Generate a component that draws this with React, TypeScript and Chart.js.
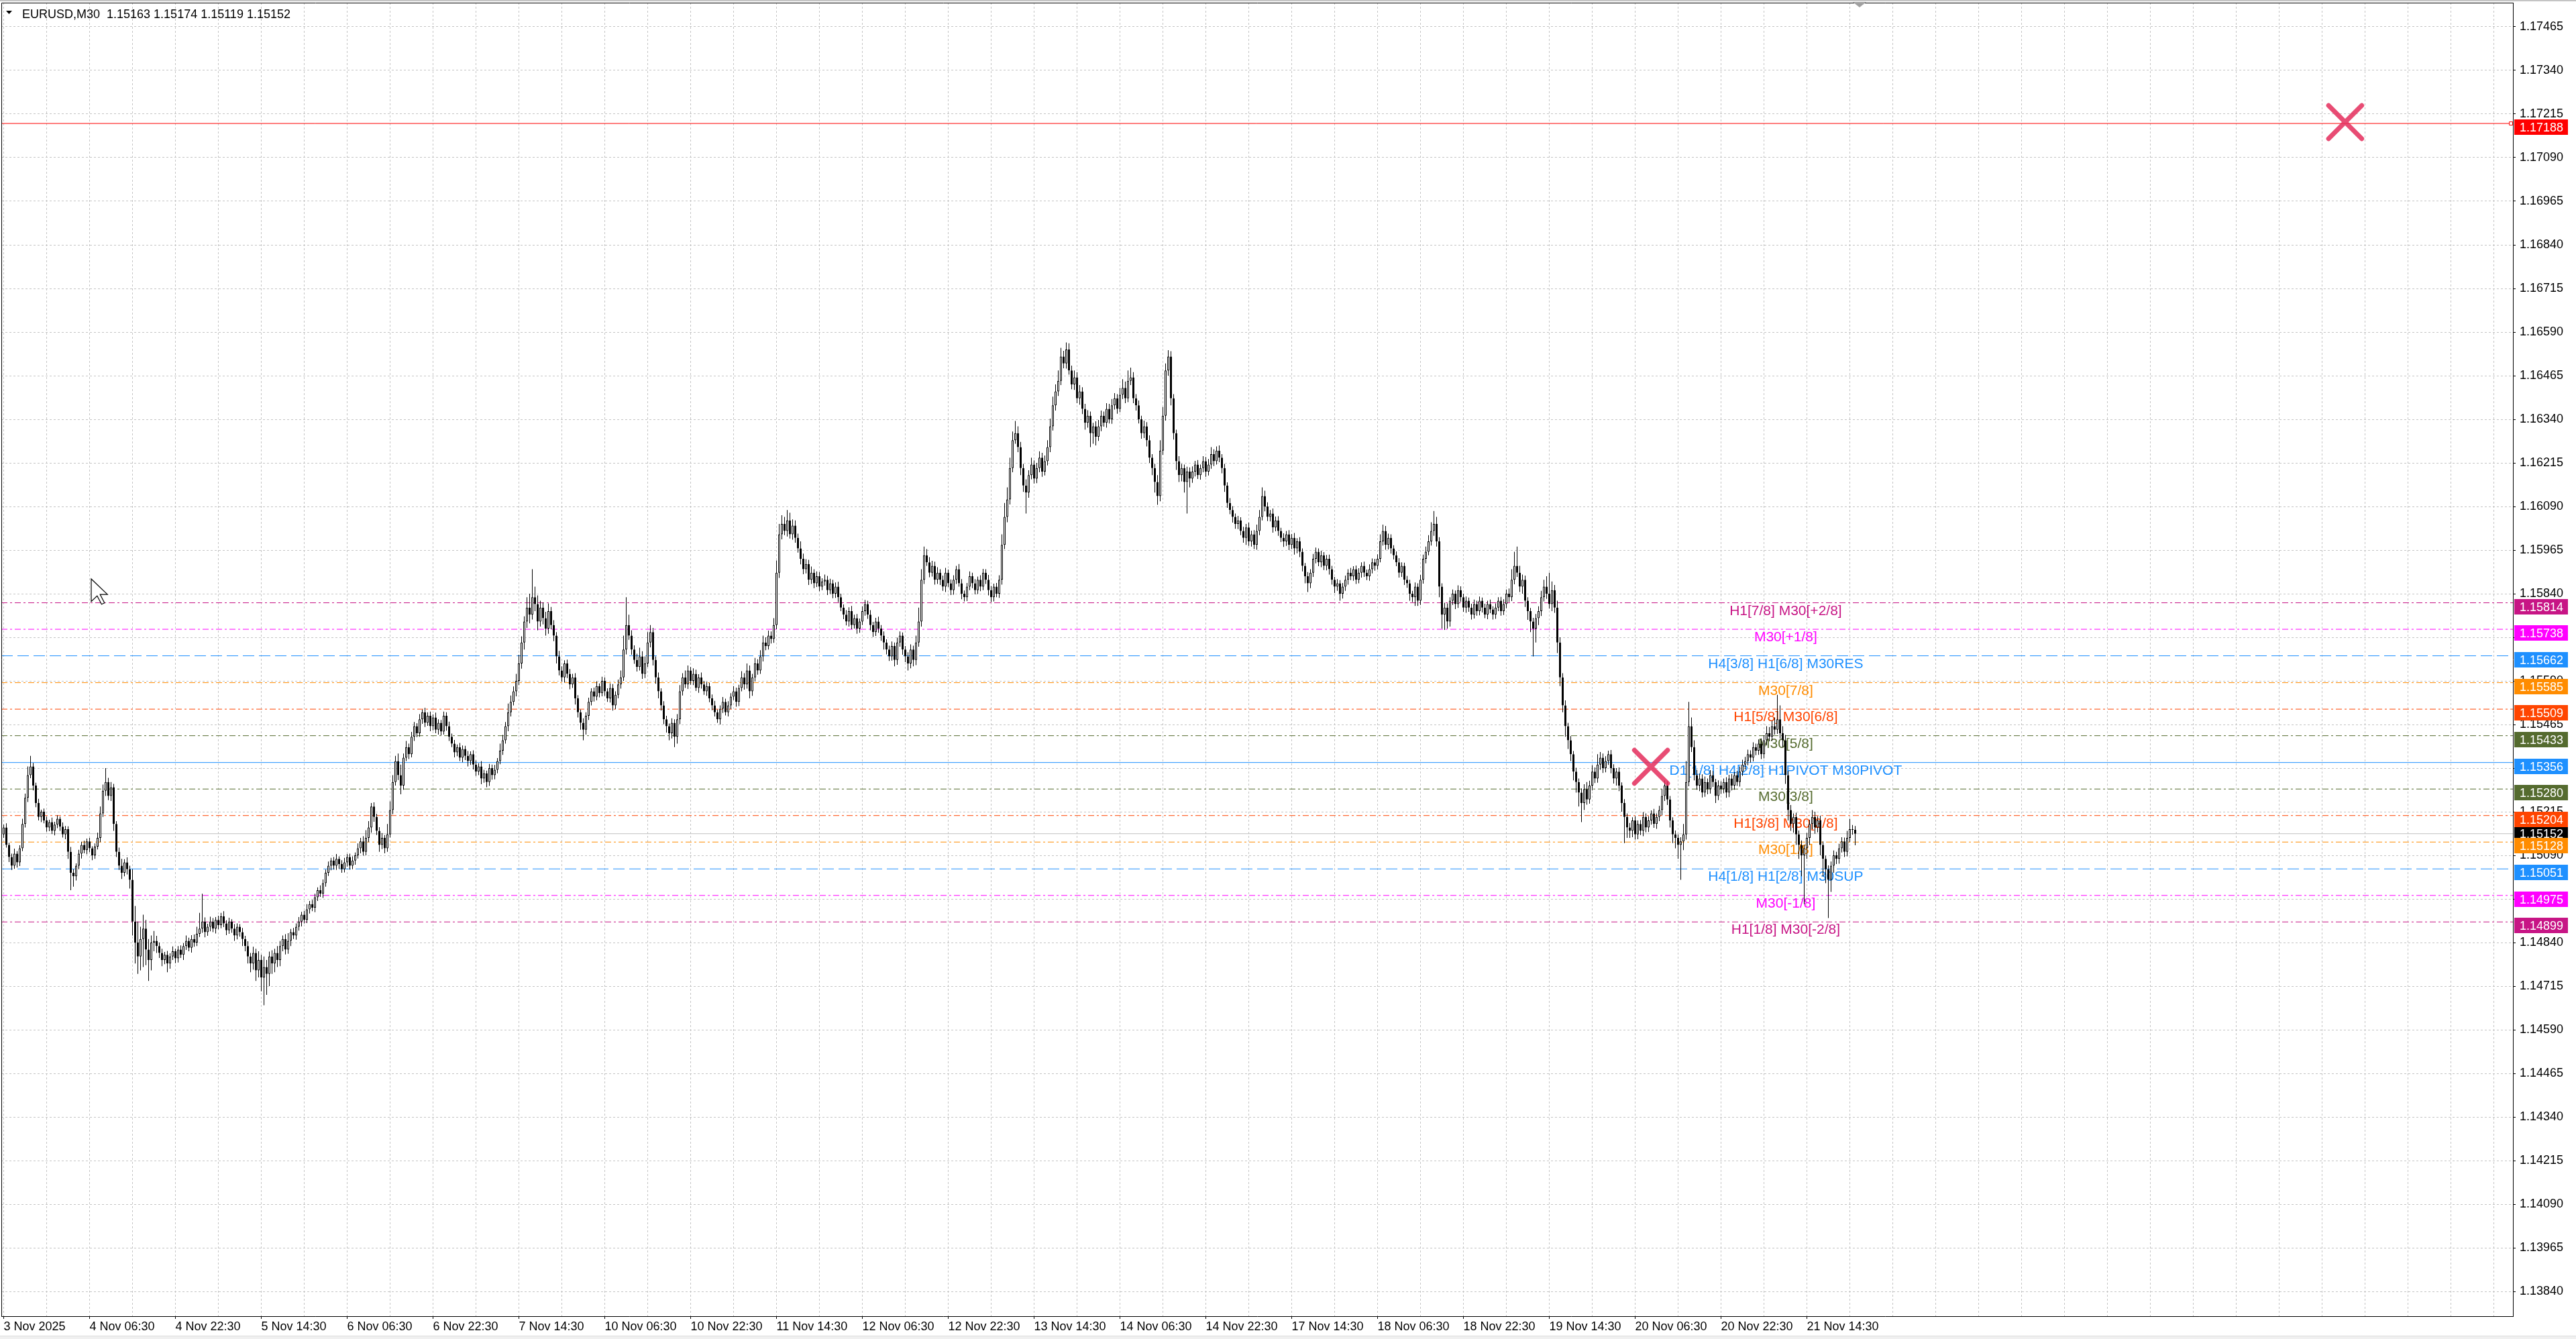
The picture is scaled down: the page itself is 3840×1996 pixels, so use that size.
import React, { useEffect, useRef } from 'react';
import { Chart, registerables } from 'chart.js';

Chart.register(...registerables);

// ---------- DATA ----------
// prices stored as 1e-5 units above 1.1 (5152 => 1.15152); open of each bar = previous close
const PRICE_BASE = 1.1;
const firstOpen = 5150;

const closes: number[] = [
  // 0-6
  5170, 5120, 5085, 5060, 5095, 5070, 5110,
  // 7-10
  5180, 5255, 5320, 5345,
  // 11-14
  5290, 5240, 5200, 5215,
  // 15-23
  5190, 5170, 5185, 5160, 5178, 5195, 5172, 5150, 5165,
  // 24-26
  5100, 5040, 5030,
  // 27-35
  5060, 5095, 5120, 5105, 5130, 5110, 5090, 5115, 5140,
  // 36-40
  5210, 5275, 5300, 5260, 5285,
  // 41-47
  5180, 5100, 5060, 5040, 5070, 5050, 5020,
  // 48-49
  4900, 4840,
  // 50-56
  4800, 4850, 4880, 4820, 4790, 4840, 4845,
  // 57-74
  4830, 4810, 4790, 4805, 4780, 4800, 4815, 4795, 4820, 4805, 4830, 4845, 4825, 4850, 4840, 4865, 4880, 4900,
  // 75-89
  4870, 4885, 4900, 4880, 4905, 4890, 4915, 4895, 4875, 4900, 4880, 4860, 4885, 4870, 4850,
  // 90-100
  4830, 4800, 4780, 4810, 4760, 4790, 4740, 4770, 4750, 4800, 4780,
  // 101-110
  4810, 4790, 4830, 4850, 4820, 4845, 4870, 4860, 4885, 4900,
  // 111-121
  4920, 4905, 4935, 4950, 4940, 4970, 4990, 4980, 5010, 5040, 5060,
  // 122-131
  5075, 5060, 5080, 5065, 5050, 5070, 5085, 5060, 5075, 5090,
  // 132-138
  5110, 5130, 5100, 5140, 5170, 5230, 5200,
  // 139-143
  5160, 5120, 5140, 5110, 5150,
  // 144-149
  5220, 5300, 5360, 5320, 5290, 5370,
  // 150-158
  5400, 5380, 5430, 5460, 5440, 5480, 5500, 5470, 5490,
  // 159-166
  5460, 5485, 5450, 5470, 5445, 5490, 5460, 5430,
  // 167-174
  5410, 5385, 5400, 5370, 5395, 5375, 5360, 5380,
  // 175-184
  5350, 5330, 5345, 5310, 5325, 5300, 5340, 5320, 5335, 5360,
  // 185-191
  5390, 5420, 5460, 5500, 5530, 5560, 5590,
  // 192-198
  5640, 5700, 5760, 5800, 5780, 5830, 5810,
  // 199-205
  5760, 5800, 5770, 5740, 5790, 5750, 5720,
  // 206-212
  5660, 5620, 5600, 5640, 5610, 5580, 5600,
  // 213-217
  5540, 5500, 5470, 5450, 5490,
  // 218-230
  5530, 5560, 5545, 5575, 5555, 5590, 5560, 5540, 5570, 5520, 5550, 5580, 5600,
  // 231-233
  5680, 5750, 5720,
  // 234-241
  5680, 5650, 5630, 5660, 5610, 5640, 5700, 5730,
  // 242-251
  5650, 5600, 5560, 5520, 5480, 5460, 5440, 5470, 5430, 5480,
  // 252-262
  5560, 5600, 5580, 5620, 5590, 5610, 5570, 5600, 5580, 5560, 5575,
  // 263-274
  5540, 5520, 5500, 5480, 5510, 5530, 5500, 5520, 5545, 5560, 5530, 5570,
  // 275-283
  5600, 5580, 5620, 5560, 5600, 5640, 5620, 5660, 5700,
  // 284-290
  5690, 5720, 5710, 5750, 5900, 6010, 6040,
  // 291-296
  6020, 6050, 6010, 6035, 6000, 5970,
  // 297-305
  5940, 5910, 5925, 5880, 5900, 5870, 5890, 5860, 5875,
  // 306-311
  5880, 5850, 5870, 5840, 5860, 5830,
  // 312-327
  5800, 5780, 5760, 5790, 5750, 5770, 5740, 5760, 5790, 5810, 5780, 5750, 5730, 5760, 5740, 5720,
  // 328-341
  5700, 5680, 5660, 5690, 5650, 5700, 5720, 5680, 5660, 5640, 5680, 5650, 5700, 5760,
  // 342-348
  5880, 5950, 5930, 5900, 5920, 5880, 5900,
  // 349-371
  5880, 5860, 5900, 5870, 5850, 5880, 5910, 5870, 5840, 5830, 5860, 5890, 5870, 5850, 5880, 5860, 5900, 5880, 5850, 5830, 5860, 5840, 5880,
  // 372-374
  5980, 6060, 6110,
  // 375-378
  6200, 6280, 6300, 6260,
  // 379-382
  6200, 6150, 6130, 6180,
  // 383-389
  6210, 6170, 6200, 6230, 6190, 6220, 6260,
  // 390-393
  6320, 6380, 6420, 6450,
  // 394-396
  6520, 6500, 6540,
  // 397-402
  6480, 6440, 6460, 6400, 6420, 6370,
  // 403-407
  6330, 6350, 6300, 6320, 6290,
  // 408-416
  6320, 6350, 6330, 6370, 6340, 6380, 6400, 6370, 6410,
  // 417-420
  6430, 6400, 6450, 6460,
  // 421-426
  6400, 6380, 6340, 6300, 6320, 6280,
  // 427-430
  6230, 6200, 6160, 6120,
  // 431-434
  6250, 6350, 6480, 6520,
  // 435-437
  6400, 6300, 6220,
  // 438-442
  6180, 6200, 6160, 6190, 6170,
  // 443-454
  6190, 6210, 6180, 6200, 6220, 6190, 6210, 6240, 6220, 6250, 6230, 6200,
  // 455-460
  6150, 6100, 6080, 6060, 6040, 6050,
  // 461-469
  6020, 6000, 6030, 5990, 6010, 5980, 6020, 6060, 6120,
  // 470-474
  6090, 6060, 6070, 6030, 6050,
  // 475-483
  6020, 6000, 5990, 6010, 5980, 6000, 5970, 5990, 5960,
  // 484-487
  5920, 5890, 5870, 5900,
  // 488-494
  5940, 5960, 5930, 5950, 5920, 5940, 5910,
  // 495-500
  5880, 5860, 5870, 5840, 5860, 5880,
  // 501-512
  5900, 5890, 5910, 5880, 5900, 5920, 5900, 5890, 5910, 5930, 5920, 5940,
  // 513-518
  5990, 6020, 5980, 6000, 5970, 5950,
  // 519-523
  5930, 5900, 5920, 5880, 5870,
  // 524-527
  5840, 5830, 5860, 5820,
  // 528-534
  5880, 5940, 5960, 5990, 6020, 6040, 5990,
  // 535-538
  5860, 5780, 5800, 5760,
  // 539-545
  5820, 5840, 5810, 5850, 5830, 5800, 5820,
  // 546-561
  5800, 5780, 5810, 5790, 5820, 5800, 5780, 5810, 5795, 5780, 5800, 5820, 5790, 5810, 5840, 5830,
  // 562-566
  5880, 5920, 5900, 5860, 5880,
  // 567-572
  5820, 5790, 5760, 5740, 5770, 5790,
  // 573-578
  5830, 5860, 5840, 5810, 5850, 5800,
  // 579-585
  5700, 5600, 5520, 5460, 5420, 5380, 5330,
  // 586-590
  5300, 5270, 5240, 5280, 5250,
  // 591-597
  5290, 5330, 5310, 5350, 5370, 5340, 5360,
  // 598-602
  5380, 5340, 5310, 5330, 5290,
  // 603-608
  5240, 5200, 5170, 5160, 5190, 5150,
  // 609-617
  5180, 5160, 5200, 5170, 5190, 5210, 5180, 5200, 5220,
  // 618-620
  5260, 5290, 5250,
  // 621-626
  5190, 5150, 5140, 5120, 5130, 5150,
  // 627-629
  5300, 5460, 5400,
  // 630-639
  5320, 5290, 5310, 5270, 5300, 5280, 5320, 5300, 5260, 5290,
  // 640-648
  5280, 5300, 5270, 5310, 5290, 5320, 5300, 5330, 5350,
  // 649-655
  5360, 5380, 5370, 5400, 5390, 5410, 5380,
  // 656-663
  5420, 5440, 5430, 5460, 5450, 5480, 5440, 5420,
  // 664-668
  5320, 5220, 5180, 5200, 5150,
  // 669-672
  5120, 5090, 5110, 5140,
  // 673-677
  5180, 5200, 5170, 5190, 5120,
  // 678-681
  5080, 5050, 5020, 5060,
  // 682-688
  5090, 5080, 5110, 5130, 5100, 5140, 5165,
  // 689-690
  5163, 5152,
];

const wickUp: number[] = [
  8, 12, 6, 10, 14, 7, 9, 15, 12, 25,
  30, 10, 8, 12, 6, 9, 11, 7, 13, 8,
  10, 6, 12, 9, 8, 14, 10, 7, 11, 9,
  12, 8, 10, 6, 9, 15, 20, 18, 40, 12,
  15, 10, 8, 12, 20, 9, 14, 10, 30, 45,
  60, 35, 40, 25, 30, 20, 28, 14, 10, 12,
  8, 11, 9, 14, 7, 10, 12, 8, 15, 9,
  11, 13, 20, 45, 80, 12, 9, 14, 10, 8,
  12, 10, 15, 9, 11, 7, 13, 10, 8, 12,
  9, 14, 10, 18, 12, 25, 15, 30, 20, 14,
  18, 12, 20, 15, 10, 14, 22, 9, 12, 10,
  13, 8, 11, 15, 9, 12, 10, 8, 14, 11,
  9, 12, 8, 10, 14, 7, 11, 13, 9, 10,
  12, 8, 14, 10, 15, 22, 18, 10, 12, 9,
  11, 14, 8, 30, 25, 20, 15, 22, 30, 12,
  18, 10, 14, 12, 9, 15, 8, 13, 10, 12,
  9, 14, 10, 8, 12, 10, 13, 9, 11, 8,
  12, 10, 9, 14, 8, 11, 12, 9, 15, 10,
  8, 12, 10, 14, 9, 20, 15, 12, 25, 18,
  14, 20, 25, 18, 15, 30, 40, 80, 30, 25,
  20, 15, 18, 22, 12, 14, 10, 16, 12, 9,
  11, 14, 10, 12, 9, 8, 13, 10, 12, 9,
  11, 14, 8, 12, 10, 9, 13, 11, 10, 14,
  20, 40, 80, 30, 15, 12, 18, 25, 15, 20,
  30, 20, 12, 10, 14, 9, 12, 10, 8, 13,
  10, 15, 18, 12, 20, 14, 10, 16, 12, 9,
  14, 10, 12, 9, 11, 13, 8, 10, 14, 9,
  12, 10, 15, 11, 9, 18, 12, 20, 14, 10,
  16, 12, 18, 20, 15, 14, 12, 20, 35, 30,
  25, 20, 30, 22, 18, 15, 12, 20, 15, 14,
  12, 18, 10, 14, 12, 9, 15, 11, 13, 10,
  12, 14, 10, 9, 13, 11, 15, 10, 12, 9,
  14, 12, 10, 13, 9, 11, 14, 10, 12, 9,
  11, 13, 10, 14, 12, 9, 10, 12, 15, 11,
  20, 40, 30, 25, 18, 15, 14, 12, 16, 10,
  12, 14, 9, 11, 13, 10, 15, 12, 9, 11,
  14, 10, 12, 9, 13, 11, 10, 14, 12, 9,
  11, 13, 30, 40, 35, 30, 25, 35, 20, 15,
  12, 18, 14, 20, 12, 15, 18, 14, 16, 20,
  22, 25, 20, 30, 25, 16, 20, 18, 14, 20,
  15, 18, 12, 14, 16, 12, 10, 14, 18, 15,
  12, 16, 14, 18, 15, 12, 20, 25, 18, 30,
  28, 15, 12, 14, 10, 16, 12, 14, 10, 12,
  20, 30, 25, 20, 18, 15, 12, 10, 14, 12,
  10, 14, 12, 15, 11, 13, 10, 14, 12, 16,
  20, 14, 12, 15, 10, 12, 9, 14, 11, 10,
  13, 9, 12, 10, 14, 11, 12, 18, 20, 25,
  15, 12, 10, 14, 11, 12, 9, 13, 10, 12,
  11, 14, 9, 12, 10, 8, 12, 10, 14, 12,
  10, 13, 9, 11, 12, 10, 8, 12, 9, 11,
  12, 10, 14, 9, 11, 13, 10, 12, 9, 14,
  11, 10, 13, 20, 18, 14, 12, 10, 9, 11,
  12, 10, 9, 11, 10, 8, 12, 10, 14, 12,
  15, 18, 25, 37, 20, 12, 10, 14, 12, 10,
  12, 9, 14, 11, 10, 12, 9, 11, 13, 10,
  12, 9, 11, 10, 13, 9, 12, 10, 11, 14,
  12, 15, 30, 40, 55, 20, 15, 12, 10, 9,
  11, 12, 14, 18, 20, 30, 60, 25, 15, 20,
  15, 12, 14, 10, 12, 9, 11, 10, 12, 14,
  20, 14, 18, 12, 30, 16, 12, 14, 10, 12,
  11, 10, 12, 9, 11, 10, 13, 9, 12, 10,
  11, 14, 10, 12, 9, 13, 10, 12, 20, 15,
  12, 10, 9, 11, 10, 12, 30, 60, 70, 25,
  20, 15, 14, 12, 16, 10, 14, 12, 9, 15,
  12, 10, 14, 11, 13, 9, 12, 15, 14, 12,
  13, 11, 14, 10, 12, 15, 14, 20, 18, 16,
  25, 70, 40, 20, 15, 12, 14, 10, 12, 11,
  13, 10, 14, 12, 20, 15, 12, 14, 10, 9,
  11, 12, 14, 10, 13, 12, 11, 20, 30, 12,
  11,
];

const wickDn: number[] = [
  10, 8, 14, 12, 9, 15, 11, 8, 10, 12,
  9, 14, 12, 10, 15, 8, 12, 11, 9, 13,
  10, 12, 9, 14, 20, 50, 30, 12, 10, 14,
  9, 12, 11, 14, 10, 8, 12, 10, 15, 12,
  14, 20, 15, 12, 18, 10, 15, 25, 40, 60,
  50, 40, 80, 45, 60, 30, 25, 20, 14, 18,
  12, 25, 15, 10, 14, 12, 9, 15, 11, 10,
  14, 12, 10, 9, 12, 15, 11, 13, 10, 14,
  12, 9, 11, 14, 10, 12, 15, 11, 13, 20,
  15, 20, 25, 18, 30, 20, 40, 80, 60, 35,
  30, 25, 20, 18, 15, 14, 12, 15, 10, 12,
  11, 14, 10, 9, 12, 10, 13, 11, 9, 12,
  10, 9, 13, 11, 12, 14, 10, 9, 12, 11,
  10, 12, 9, 14, 11, 10, 12, 15, 14, 12,
  20, 12, 14, 10, 9, 12, 10, 14, 25, 12,
  10, 14, 9, 12, 11, 10, 13, 12, 9, 14,
  12, 10, 14, 11, 9, 13, 12, 10, 14, 11,
  10, 13, 12, 15, 11, 14, 12, 10, 16, 12,
  15, 11, 13, 12, 10, 9, 12, 10, 14, 12,
  10, 14, 12, 15, 20, 18, 25, 14, 20, 25,
  14, 18, 20, 15, 12, 16, 20, 14, 12, 15,
  12, 14, 10, 18, 15, 20, 30, 14, 12, 10,
  14, 11, 12, 9, 13, 10, 12, 15, 11, 10,
  12, 10, 14, 12, 15, 11, 13, 10, 14, 12,
  10, 14, 16, 18, 20, 15, 14, 18, 20, 15,
  30, 20, 14, 12, 10, 13, 11, 12, 9, 14,
  12, 10, 13, 11, 14, 12, 10, 15, 12, 9,
  12, 11, 10, 14, 12, 10, 15, 12, 20, 13,
  11, 12, 10, 14, 12, 10, 13, 11, 12, 15,
  14, 12, 16, 12, 15, 14, 12, 16, 14, 12,
  15, 12, 14, 11, 13, 10, 12, 14, 11, 13,
  12, 14, 10, 13, 11, 14, 12, 10, 15, 12,
  10, 13, 12, 15, 14, 11, 12, 15, 20, 14,
  13, 12, 18, 14, 12, 15, 16, 20, 14, 18,
  15, 12, 14, 12, 10, 13, 11, 14, 12, 15,
  12, 15, 11, 14, 13, 12, 10, 16, 12, 11,
  10, 14, 12, 11, 13, 10, 12, 15, 14, 12,
  10, 12, 14, 12, 15, 14, 12, 10, 14, 20,
  18, 60, 15, 12, 14, 13, 12, 15, 11, 12,
  14, 12, 15, 13, 12, 14, 15, 12, 14, 16,
  14, 18, 15, 20, 14, 40, 30, 25, 12, 14,
  11, 14, 12, 13, 12, 14, 10, 12, 14, 11,
  12, 14, 15, 12, 16, 14, 18, 15, 20, 30,
  25, 15, 12, 14, 15, 20, 18, 25, 20, 18,
  30, 90, 25, 12, 14, 11, 13, 12, 15, 11,
  12, 14, 10, 13, 15, 18, 14, 12, 16, 14,
  15, 12, 14, 20, 13, 15, 12, 14, 12, 10,
  14, 12, 13, 15, 11, 14, 12, 16, 13, 15,
  12, 18, 14, 15, 16, 20, 25, 14, 12, 13,
  11, 14, 12, 13, 15, 14, 18, 12, 20, 14,
  12, 14, 11, 13, 12, 10, 14, 12, 11, 13,
  12, 14, 11, 10, 12, 14, 13, 15, 12, 11,
  14, 12, 15, 13, 20, 14, 25, 15, 12, 11,
  13, 10, 12, 14, 15, 30, 40, 44, 20, 14,
  12, 14, 11, 13, 12, 15, 12, 14, 11, 13,
  12, 14, 10, 13, 11, 14, 12, 10, 13, 11,
  12, 14, 11, 13, 12, 15, 20, 18, 25, 30,
  80, 40, 20, 14, 12, 15, 13, 20, 15, 30,
  25, 20, 30, 25, 20, 25, 30, 40, 55, 20,
  15, 12, 14, 13, 12, 15, 14, 12, 11, 15,
  14, 20, 16, 25, 75, 30, 20, 18, 15, 14,
  12, 15, 14, 13, 12, 11, 14, 12, 15, 14,
  16, 20, 25, 30, 40, 100, 25, 15, 12, 14,
  15, 12, 16, 14, 12, 15, 13, 14, 20, 12,
  14, 12, 15, 13, 14, 12, 11, 13, 12, 14,
  12, 14, 11, 13, 12, 14, 12, 15, 13, 12,
  14, 12, 15, 20, 25, 30, 20, 25, 30, 40,
  60, 140, 30, 20, 15, 18, 14, 30, 50, 40,
  110, 35, 20, 15, 14, 12, 15, 13, 12, 14,
  33,
];

const timeLabels: string[] = [
  '3 Nov 2025', '4 Nov 06:30', '4 Nov 22:30', '5 Nov 14:30', '6 Nov 06:30', '6 Nov 22:30',
  '7 Nov 14:30', '10 Nov 06:30', '10 Nov 22:30', '11 Nov 14:30', '12 Nov 06:30', '12 Nov 22:30',
  '13 Nov 14:30', '14 Nov 06:30', '14 Nov 22:30', '17 Nov 14:30', '18 Nov 06:30', '18 Nov 22:30',
  '19 Nov 14:30', '20 Nov 06:30', '20 Nov 22:30', '21 Nov 14:30',
];
const BARS_PER_LABEL = 32;
const BARS_PER_GRID = 16;
const GRID_LAST_BAR = 928;

const priceTicks: number[] = [
  1.17465, 1.17340, 1.17215, 1.17090, 1.16965, 1.16840, 1.16715, 1.16590, 1.16465, 1.16340,
  1.16215, 1.16090, 1.15965, 1.15840, 1.15715, 1.15590, 1.15465, 1.15340, 1.15215, 1.15090,
  1.14965, 1.14840, 1.14715, 1.14590, 1.14465, 1.14340, 1.14215, 1.14090, 1.13965, 1.13840,
];

const levelValues: number[] = [
  1.15814, 1.15738, 1.15662, 1.15585, 1.15509, 1.15433, 1.15356,
  1.15280, 1.15204, 1.15128, 1.15051, 1.14975, 1.14899,
];
const levelNames: string[] = [
  'H1[7/8] M30[+2/8]', 'M30[+1/8]', 'H4[3/8] H1[6/8] M30RES', 'M30[7/8]', 'H1[5/8] M30[6/8]',
  'M30[5/8]', 'D1[1/8] H4[2/8] H1PIVOT M30PIVOT', 'M30[3/8]', 'H1[3/8] M30[2/8]', 'M30[1/8]',
  'H4[1/8] H1[2/8] M30SUP', 'M30[-1/8]', 'H1[1/8] M30[-2/8]',
];
const levelColors: string[] = [
  '#C71585', '#FF00FF', '#1E90FF', '#FF8C00', '#FF4500', '#556B2F', '#1E90FF',
  '#556B2F', '#FF4500', '#FF8C00', '#1E90FF', '#FF00FF', '#C71585',
];
const levelStyles: string[] = [
  'dashdot', 'dashdot', 'dash', 'dashdot', 'dashdot', 'dashdot', 'solid',
  'dashdot', 'dashdot', 'dashdot', 'dash', 'dashdot', 'dashdot',
];

const stopPrice = 1.17188;
const bidPrice = 1.15152;
const crossBars: number[] = [872.6, 613.9];
const crossPrices: number[] = [1.17192, 1.15344];
const headerSymbol = 'EURUSD,M30';
const headerOHLC: string[] = ['1.15163', '1.15174', '1.15119', '1.15152'];

// ---------- LAYOUT CONSTANTS ----------
const W = 3840;
const H = 1996;
const X_MIN = -0.875;
const X_MAX = 935.125;
const Y_MAX = 1.1753423;
const Y_MIN = 1.1376885;
const LEVEL_LABEL_BAR = 664.1;
const FONT = '"Liberation Sans", Arial, sans-serif';

const dashPatterns: Record<string, number[]> = {
  solid: [],
  dash: [17, 7],
  dashdot: [9, 4, 3, 4],
};

const toPrice = (v: number) => PRICE_BASE + v / 100000;

export default function App() {
  const canvasRef = useRef<HTMLCanvasElement | null>(null);

  useEffect(() => {
    document.body.style.margin = '0';
    const canvas = canvasRef.current;
    if (!canvas) return;

    const opens = closes.map((c, i) => (i === 0 ? firstOpen : closes[i - 1]));
    const bodyData = closes.map((c, i) => ({ x: i, y: [toPrice(opens[i]), toPrice(c)] }));
    const wickData = closes.map((c, i) => ({
      x: i,
      y: [
        toPrice(Math.min(opens[i], c) - (wickDn[i] ?? 0)),
        toPrice(Math.max(opens[i], c) + (wickUp[i] ?? 0)),
      ],
    }));
    const bodyColors = closes.map((c, i) => (c >= opens[i] ? '#ffffff' : '#000000'));

    const levelDatasets = levelValues.map((v, i) => ({
      type: 'line',
      data: [{ x: X_MIN, y: v }, { x: X_MAX, y: v }],
      borderColor: levelColors[i],
      borderWidth: 1,
      borderDash: dashPatterns[levelStyles[i]],
      pointRadius: 0,
      fill: false,
      tension: 0,
    }));

    const decor = {
      id: 'mtDecor',
      beforeDraw(chart: any) {
        const ctx = chart.ctx;
        ctx.save();
        ctx.fillStyle = '#ffffff';
        ctx.fillRect(0, 0, chart.width, chart.height);
        ctx.fillStyle = '#c4c4c4';
        ctx.fillRect(0, 0, chart.width, 2);
        ctx.fillStyle = '#dcdcdc';
        ctx.fillRect(0, 1991, chart.width, 1);
        ctx.fillStyle = '#f0f0f0';
        ctx.fillRect(0, 1992, chart.width, 4);
        ctx.restore();
      },
      beforeDatasetsDraw(chart: any) {
        const { ctx, scales } = chart;
        const cx = scales.x.getPixelForValue(LEVEL_LABEL_BAR);
        ctx.save();
        ctx.font = `21px ${FONT}`;
        ctx.textAlign = 'center';
        ctx.textBaseline = 'alphabetic';
        levelValues.forEach((v, i) => {
          ctx.fillStyle = levelColors[i];
          ctx.fillText(levelNames[i], cx, Math.round(scales.y.getPixelForValue(v)) + 18);
        });
        ctx.restore();
      },
      beforeDatasetDraw(chart: any, args: any) {
        if (args.index === 0) {
          chart.ctx.save();
          chart.ctx.lineCap = 'round';
        }
      },
      afterDatasetDraw(chart: any, args: any) {
        if (args.index === 0) chart.ctx.restore();
      },
      afterDraw(chart: any) {
        const { ctx, chartArea: ca, scales } = chart;
        ctx.save();
        // frame top/left
        ctx.strokeStyle = '#000000';
        ctx.lineWidth = 1;
        ctx.beginPath();
        ctx.moveTo(ca.left + 0.5, ca.bottom);
        ctx.lineTo(ca.left + 0.5, ca.top + 0.5);
        ctx.lineTo(ca.right, ca.top + 0.5);
        ctx.stroke();

        // price boxes on the right
        const boxX = ca.right + 2;
        const boxW = 80;
        ctx.font = `18px ${FONT}`;
        ctx.textAlign = 'left';
        ctx.textBaseline = 'alphabetic';
        const by = Math.round(scales.y.getPixelForValue(bidPrice));
        ctx.fillStyle = '#000000';
        ctx.fillRect(boxX, by - 11, boxW, 23);
        ctx.fillStyle = '#ffffff';
        ctx.fillText(bidPrice.toFixed(5), boxX + 8, by + 6);
        const boxes = [{ v: stopPrice, c: '#FF0000' }].concat(
          levelValues.map((v, i) => ({ v, c: levelColors[i] }))
        );
        boxes.forEach((b) => {
          const yy = Math.round(scales.y.getPixelForValue(b.v));
          ctx.fillStyle = b.c;
          ctx.fillRect(boxX, yy - 6, boxW, 23);
          ctx.fillStyle = '#ffffff';
          ctx.fillText(b.v.toFixed(5), boxX + 8, yy + 12);
        });

        // header
        ctx.fillStyle = '#000000';
        ctx.beginPath();
        ctx.moveTo(9, 16);
        ctx.lineTo(18, 16);
        ctx.lineTo(13.5, 21);
        ctx.closePath();
        ctx.fill();
        ctx.font = `18px ${FONT}`;
        ctx.fillText(headerSymbol + '  ' + headerOHLC.join(' '), 33, 27);

        // chart shift marker
        ctx.fillStyle = '#a0a0a0';
        ctx.beginPath();
        ctx.moveTo(2762, 3);
        ctx.lineTo(2782, 3);
        ctx.lineTo(2772, 11);
        ctx.closePath();
        ctx.fill();

        // mouse cursor
        const cur = [[0, 0], [0, 16], [4, 12], [7, 18], [9, 17], [6, 11], [11, 11]];
        ctx.beginPath();
        cur.forEach((p, i) => {
          const px = 136 + p[0] * 2.2;
          const py = 863 + p[1] * 2.1;
          if (i === 0) ctx.moveTo(px, py);
          else ctx.lineTo(px, py);
        });
        ctx.closePath();
        ctx.fillStyle = '#ffffff';
        ctx.fill();
        ctx.strokeStyle = '#000000';
        ctx.lineWidth = 1.2;
        ctx.stroke();
        ctx.restore();
      },
    };

    const xTickValues: number[] = [];
    for (let v = 0; v <= GRID_LAST_BAR; v += BARS_PER_GRID) xTickValues.push(v);
    const lastLabelBar = (timeLabels.length - 1) * BARS_PER_LABEL;

    const config: any = {
      type: 'bar',
      data: {
        datasets: [
          {
            type: 'scatter',
            data: crossBars.map((b, i) => ({ x: b, y: crossPrices[i] })),
            pointStyle: 'crossRot',
            pointRadius: 35,
            borderWidth: 7,
            borderColor: 'rgba(228,45,92,0.85)',
            backgroundColor: 'rgba(0,0,0,0)',
            clip: false,
          },
          {
            type: 'bar',
            data: bodyData,
            backgroundColor: bodyColors,
            borderColor: '#000000',
            borderWidth: 1,
            borderSkipped: false,
            barThickness: 3,
            minBarLength: 1,
            grouped: false,
            inflateAmount: 0,
          },
          {
            type: 'bar',
            data: wickData,
            backgroundColor: '#000000',
            borderWidth: 0,
            barThickness: 1,
            minBarLength: 1,
            grouped: false,
            inflateAmount: 0,
          },
          {
            type: 'line',
            data: [{ x: X_MIN, y: stopPrice }, { x: 934.4, y: stopPrice }],
            borderColor: '#FF0000',
            borderWidth: 1,
            pointRadius: [0, 3.5],
            pointStyle: 'rect',
            pointBackgroundColor: '#ffffff',
            pointBorderColor: '#FF0000',
            pointBorderWidth: 1,
            fill: false,
          },
          {
            type: 'line',
            data: [{ x: X_MIN, y: bidPrice }, { x: X_MAX, y: bidPrice }],
            borderColor: '#C0C0C0',
            borderWidth: 1,
            pointRadius: 0,
            fill: false,
          },
          ...levelDatasets,
        ],
      },
      options: {
        responsive: false,
        maintainAspectRatio: false,
        animation: false,
        devicePixelRatio: 1,
        events: [],
        layout: { autoPadding: false, padding: { left: 2, top: 4, right: 0, bottom: 0 } },
        plugins: {
          legend: { display: false },
          tooltip: { enabled: false },
          title: { display: false },
        },
        scales: {
          x: {
            type: 'linear',
            position: 'bottom',
            min: X_MIN,
            max: X_MAX,
            offset: false,
            afterBuildTicks: (s: any) => {
              s.ticks = xTickValues.map((v) => ({ value: v }));
            },
            afterFit: (s: any) => {
              s.height = H - 1962;
              s.paddingLeft = 0;
              s.paddingRight = 0;
              s.paddingTop = 0;
              s.paddingBottom = 0;
            },
            grid: {
              offset: false,
              color: '#c4c4c4',
              lineWidth: 1,
              drawTicks: true,
              tickLength: 4,
              tickWidth: 1,
              tickColor: (c: any) => {
                const v = c.tick ? c.tick.value : -1;
                return v % BARS_PER_LABEL === 0 && v <= lastLabelBar ? '#000000' : 'rgba(0,0,0,0)';
              },
            },
            border: { display: true, color: '#000000', width: 1, dash: [3, 3] },
            ticks: {
              autoSkip: false,
              maxRotation: 0,
              minRotation: 0,
              align: 'start',
              padding: 1,
              color: '#000000',
              font: { family: FONT, size: 18 },
              callback: (value: any) => {
                const v = Number(value);
                if (v % BARS_PER_LABEL !== 0) return '';
                return timeLabels[v / BARS_PER_LABEL] ?? '';
              },
            },
          },
          y: {
            type: 'linear',
            position: 'right',
            min: Y_MIN,
            max: Y_MAX,
            beginAtZero: false,
            afterBuildTicks: (s: any) => {
              s.ticks = priceTicks.map((v) => ({ value: v }));
            },
            afterFit: (s: any) => {
              s.width = W - 3746;
              s.paddingLeft = 0;
              s.paddingRight = 0;
              s.paddingTop = 0;
              s.paddingBottom = 0;
            },
            grid: {
              color: '#c4c4c4',
              lineWidth: 1,
              drawTicks: true,
              tickLength: 4,
              tickWidth: 1,
              tickColor: '#000000',
            },
            border: { display: true, color: '#000000', width: 1, dash: [3, 3] },
            ticks: {
              autoSkip: false,
              padding: 6,
              color: '#000000',
              font: { family: FONT, size: 18 },
              callback: (value: any) => Number(value).toFixed(5),
            },
          },
        },
      },
      plugins: [decor],
    };

    const chart = new Chart(canvas, config);
    return () => chart.destroy();
  }, []);

  return (
    <div style={{ position: 'relative', width: W, height: H, overflow: 'hidden', background: '#ffffff' }}>
      <canvas ref={canvasRef} width={W} height={H} style={{ display: 'block', width: W, height: H }} />
    </div>
  );
}
